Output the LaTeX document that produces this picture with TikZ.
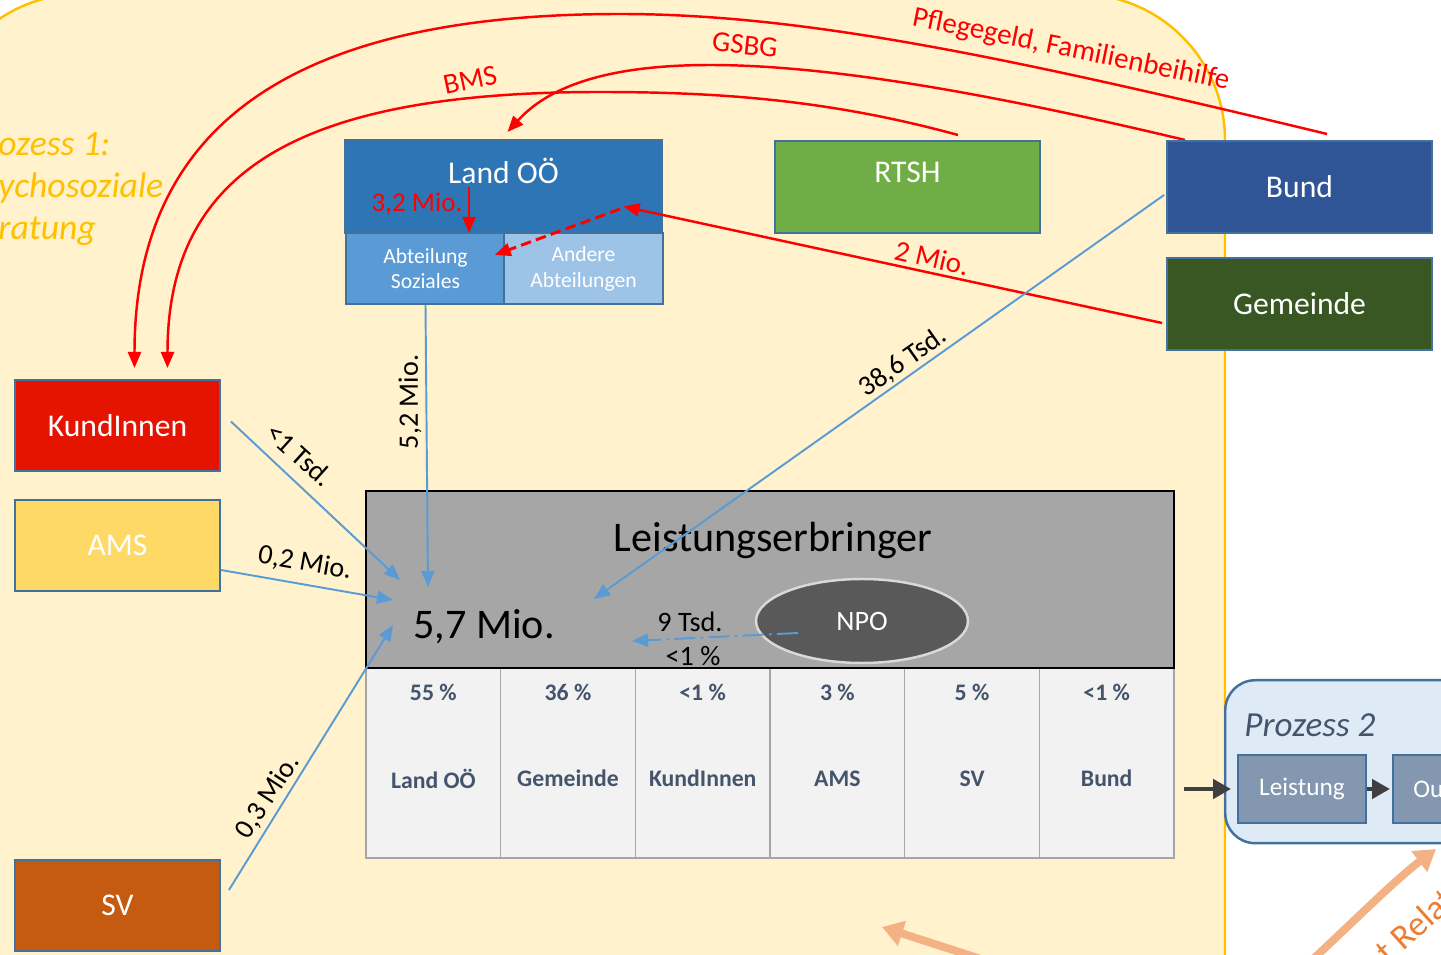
\documentclass[tikz,border=0pt]{standalone}
\usepackage{fontspec}
\setmainfont{Carlito}
\usetikzlibrary{arrows.meta,shapes.geometric,calc,positioning}

\definecolor{procfill}{HTML}{FFF2CC}
\definecolor{procrim}{HTML}{FFC000}
\definecolor{rim}{HTML}{41719C}
\definecolor{landblue}{HTML}{2E75B6}
\definecolor{sozblue}{HTML}{5B9BD5}
\definecolor{otherblue}{HTML}{9DC3E6}
\definecolor{rtshgreen}{HTML}{70AD47}
\definecolor{bundblue}{HTML}{2F5597}
\definecolor{gemgreen}{HTML}{385723}
\definecolor{kundred}{HTML}{E51400}
\definecolor{amsyellow}{HTML}{FFD966}
\definecolor{svorange}{HTML}{C55A11}
\definecolor{flowblue}{HTML}{5B9BD5}
\definecolor{slate}{HTML}{44546A}
\definecolor{cellgray}{HTML}{F2F2F2}
\definecolor{p2fill}{HTML}{DEEBF7}
\definecolor{p2box}{HTML}{8497B0}
\definecolor{relorange}{HTML}{F4B183}
\definecolor{reltext}{HTML}{ED7D31}

\tikzset{
  box/.style={draw=rim, line width=1.1pt, minimum width=4.1cm, minimum height=1.82cm,
    text=white, font=\fontsize{18}{22}\selectfont},
  widebox/.style={box, minimum width=5.3cm, minimum height=1.84cm},
  subbox/.style={draw=rim, line width=1.1pt, minimum width=3.17cm, minimum height=1.42cm,
    text=white, align=center, font=\fontsize{12.3}{14.7}\selectfont},
  toplabel/.style={text=white, font=\fontsize{18}{22}\selectfont, yshift=0.3cm},
  redflow/.style={red, line width=1.4pt, -{Triangle[length=0.32cm,width=0.26cm]}},
  blueflow/.style={flowblue, line width=1.1pt, -{Triangle[length=0.32cm,width=0.26cm]}},
  darkflow/.style={black!75, line width=2.8pt, -{Triangle[length=0.36cm,width=0.38cm]}},
  relflow/.style={relorange, line width=4.5pt, -{Triangle[length=0.42cm,width=0.5cm]}},
  redlbl/.style={red, inner sep=0pt, font=\fontsize{16.5}{20}\selectfont},
  flowlbl/.style={inner sep=0pt, font=\fontsize{16}{19}\selectfont},
  cell/.style={draw=black!35, line width=0.6pt, fill=cellgray, minimum width=2.693cm, minimum height=3.8cm},
  celltxt/.style={text=slate, font=\bfseries\fontsize{13.5}{16}\selectfont},
  p2sub/.style={draw=rim, line width=1.1pt, fill=p2box, minimum width=2.56cm, minimum height=1.36cm,
    text=white, font=\fontsize{14.4}{17}\selectfont},
}

\begin{document}
\begin{tikzpicture}[x=0.02cm, y=-0.02cm]
  \useasboundingbox (0,0) rectangle (1441,955);
  \clip (0,0) rectangle (1441,955);

  % Prozess 1 area
  \draw[fill=procfill, draw=procrim, line width=1.4pt, rounded corners=2.92cm] (-65,-6) rectangle (1225,1100);
  \node[anchor=north west, align=left, inner sep=0pt, text=procrim,
        font=\itshape\fontsize{20.3}{24}\selectfont] (p1title) at (-2,132) {ozess 1:\\ychosoziale\\ratung};

  % red money flows
  \coordinate (kin1) at (134.5,368);
  \coordinate (kin2) at (167.5,368);
  \draw[redflow] (1327,134) .. controls (1000,55) and (800,14) .. (620,14)
                 .. controls (300,14) and (134.5,120) .. (kin1);
  \draw[redflow] (1185,140) .. controls (850,60) and (600,30) .. (507.5,132);
  \draw[redflow] (958,135) .. controls (830,100) and (720,92) .. (600,92)
                 .. controls (300,92) and (167.5,170) .. (kin2);

  % Land OOe
  \node[draw=rim, line width=1.1pt, fill=landblue, minimum width=6.34cm, minimum height=1.86cm,
        label={[toplabel, yshift=0.01cm]center:Land OÖ}] (land) at (503.5,186.5) {};
  \node[subbox, fill=sozblue] (soz) at (425.5,268.5) {Abteilung\\Soziales};
  \node[subbox, fill=otherblue] (other) at (583.5,268.5) {Andere\\Abteilungen};
  \node[redlbl, font=\fontsize{15.4}{18}\selectfont] (l32) at (417,204) {3,2 Mio.};
  \draw[redflow] ($(land.south)+(-34.5,-47)$) -- ($(land.south)+(-34.5,-1)$);

  % payers
  \node[widebox, fill=rtshgreen, label={[toplabel]center:RTSH}] (rtsh) at (907.5,187) {};
  \node[widebox, fill=bundblue] (bund) at (1299.5,187) {Bund};
  \node[widebox, fill=gemgreen] (gem) at (1299.5,304) {Gemeinde};
  \node[box, fill=kundred] (kund) at (117.5,425.5) {KundInnen};
  \node[box, fill=amsyellow] (ams) at (117.5,545.5) {AMS};
  \node[box, fill=svorange] (sv) at (117.5,905.5) {SV};

  \draw[redflow] ($(gem.west)+(-4,19)$) -- ($(land.center)+(120,20)$);
  \draw[redflow, line width=1.7pt, dash pattern=on 6pt off 3pt] ($(land.center)+(116.5,22.5)$) -- ($(soz.north east)+(-11,23)$);
  \node[redlbl, rotate=-11.5] (lpf) at (1071,50) {Pflegegeld, Familienbeihilfe};
  \node[redlbl, rotate=-6] (lgs) at (745,45) {GSBG};
  \node[redlbl, rotate=12] (lbms) at (470,80) {BMS};
  \node[redlbl, rotate=-13] (l2) at (932,258) {2 Mio.};

  % shares table
  \foreach \pct/\nm [count=\i from 0] in {55 \%/Land OÖ, 36 \%/Gemeinde, <1 \%/KundInnen, 3 \%/AMS, 5 \%/SV, <1 \%/Bund} {
    \node[cell] (c\i) at ({433.33+134.67*\i},763) {};
    \node[celltxt] (pc\i) at ($(c\i.north)+(0,25)$) {\pct};
    \node[celltxt] (nm\i) at ($(c\i.north)+(0,111)$) {\nm};
  }

  % Leistungserbringer
  \node[draw=black, line width=1.1pt, fill=black!35, minimum width=16.16cm, minimum height=3.54cm] (le) at (770,579.5) {};
  \node[font=\fontsize{24}{29}\selectfont] (letitle) at (773,540) {Leistungserbringer};
  \node[font=\fontsize{24}{29}\selectfont] (m57) at (484,627) {5,7 Mio.};
  \node[ellipse, draw=black!15, line width=1.4pt, fill=black!65, minimum width=4.24cm, minimum height=1.68cm,
        text=white, font=\fontsize{16}{19}\selectfont] (npo) at (862,621) {NPO};

  % blue flows into 5,7 Mio.
  \coordinate (inK) at (400,580);
  \coordinate (inA) at (393,600);
  \coordinate (inS) at (393,625);
  \coordinate (inL) at (428,587);
  \coordinate (inB) at (594,599);
  \coordinate (inN) at (632,641);
  \draw[blueflow] ($(kund.east)+(10,-4)$) -- (inK);
  \draw[blueflow] ($(ams.east)+(0,24.5)$) -- (inA);
  \draw[blueflow] ($(sv.east)+(8,-15.5)$) -- (inS);
  \draw[blueflow] (soz.south) -- (inL);
  \draw[blueflow] ($(bund.west)+(-2,8)$) -- (inB);
  \draw[blueflow, dash pattern=on 12pt off 3pt on 1.5pt off 3pt] ($(npo.center)+(-64,12)$) -- (inN);
  \node[flowlbl, rotate=-42] (lk) at (300,455) {<1 Tsd.};
  \node[flowlbl, rotate=-10] (la) at (305,563) {0,2 Mio.};
  \node[flowlbl, rotate=57] (ls) at (268,797) {0,3 Mio.};
  \node[flowlbl, rotate=90] (ll) at (410,402) {5,2 Mio.};
  \node[flowlbl, rotate=35] (lb) at (903,362) {38,6 Tsd.};
  \node[flowlbl] (ln1) at (690,622) {9 Tsd.};
  \node[flowlbl] (ln2) at (693,656) {<1 \%};

  % Prozess 2
  \node[draw=rim, line width=1.4pt, fill=p2fill, rounded corners=0.6cm, minimum width=6.52cm,
        minimum height=3.26cm, anchor=north west] (p2) at (1224,679) {};
  \node[text=slate, font=\itshape\fontsize{20}{24}\selectfont] (p2title) at (1310,725) {Prozess 2};
  \node[p2sub] (leist) at (1302,789) {Leistung};
  \node[p2sub, anchor=west] (outb) at (1392,789) {};
  \node[anchor=west, inner sep=0pt, text=white, font=\fontsize{14.4}{17}\selectfont] (outt) at (1413,789) {Ou};
  \draw[darkflow] ($(c5.east)+(9,26)$) -- ($(leist.west)+(-6,0)$);
  \draw[darkflow] (leist.east) -- ($(outb.west)+(-2,0)$);

  % relation arrows
  \coordinate (relA) at (1310,962);
  \coordinate (relB) at (1436,849);
  \coordinate (relC) at (990,962);
  \coordinate (relD) at (882,927);
  \draw[relflow] (relA) .. controls (1350,925) and (1395,880) .. (relB);
  \draw[relflow] (relC) -- (relD);
  \node[text=reltext, rotate=42, font=\fontsize{20}{24}\selectfont] (reltxt) at (1415,925) {t Relat};
\end{tikzpicture}
\end{document}
